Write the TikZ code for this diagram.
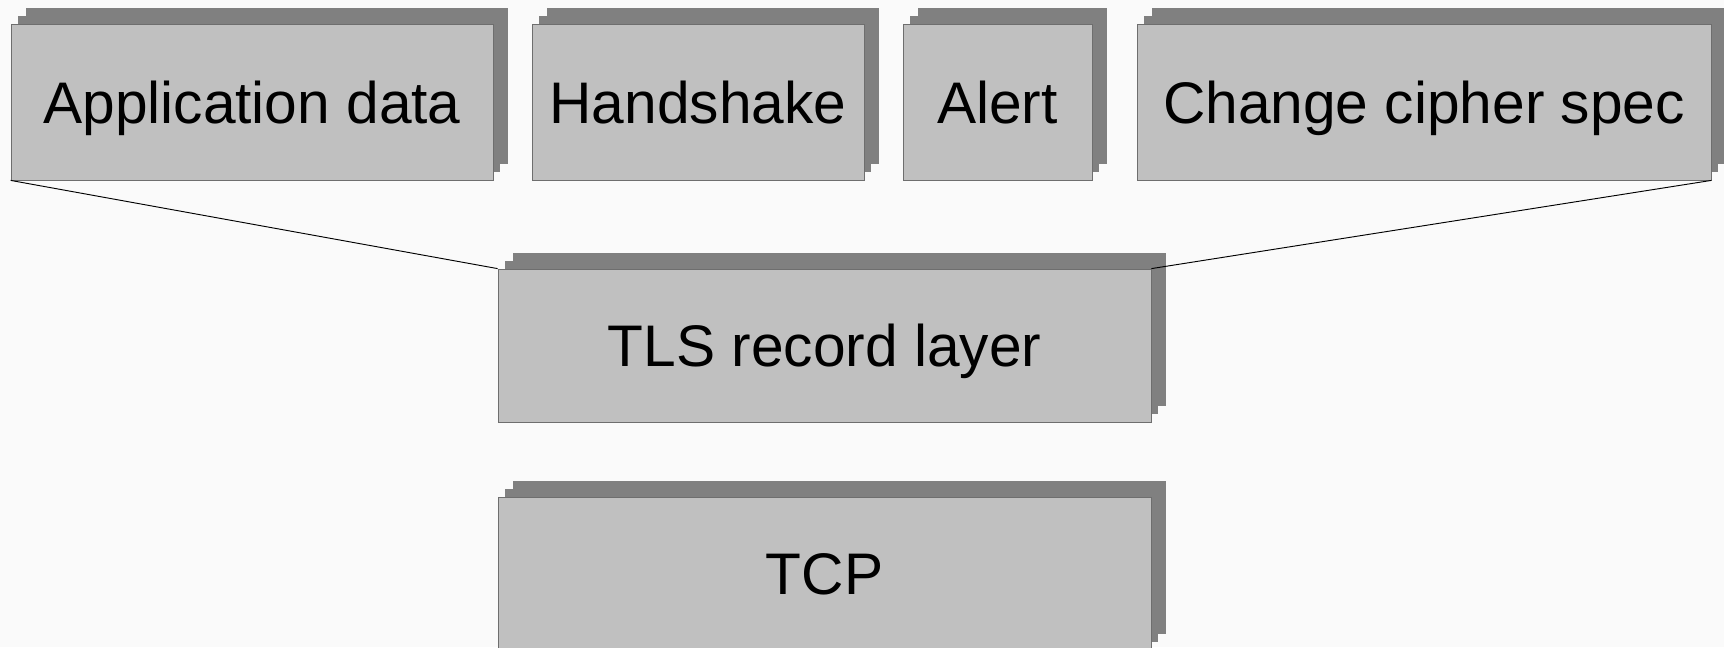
\documentclass[tikz,border=0pt]{standalone}
\usepackage{fontspec}
\setmainfont{Liberation Sans}
\usetikzlibrary{shadows}
\definecolor{boxgray}{HTML}{C0C0C0}
\definecolor{shadowgray}{HTML}{808080}
\definecolor{framegray}{HTML}{6E6E6E}
\begin{document}
\begin{tikzpicture}[x=0.75pt,y=0.75pt,
        layer/.style={draw=framegray,fill=boxgray,line width=0.6pt,inner sep=0pt,
            minimum height=117pt,font=\fontsize{44}{50}\selectfont,
            text height=31.5pt,text depth=0pt,
            general shadow={fill=shadowgray,shadow xshift=11.25pt,shadow yshift=12pt},
            general shadow={fill=shadowgray,shadow xshift=5.6pt,shadow yshift=6pt}},
        link/.style={black,line width=0.7pt}]
        \useasboundingbox[fill=black!2] (0,0) rectangle (1724,-647);
        % Top row
        \node[layer,minimum width=361.5pt] (appdata) at (252,-102) {Application data};
        \node[layer,minimum width=249pt] (handshake) at (698,-102) {Handshake};
        \node[layer,minimum width=141.75pt] (alert) at (997.5,-102) {Alert};
        \node[layer,minimum width=430.5pt] (ccs) at (1424,-102) {Change cipher spec};
        % Record layer and transport
        \node[layer,minimum width=489.75pt,minimum height=114.75pt] (record) at (824.5,-345.5) {TLS record layer};
        \node[layer,minimum width=489.75pt,minimum height=114.75pt] (tcp) at (824.5,-573.5) {TCP};
        % Funnel
        \draw[link] (appdata.south west) -- (record.north west);
        \draw[link] (ccs.south east) -- (record.north east);
\end{tikzpicture}
\end{document}
